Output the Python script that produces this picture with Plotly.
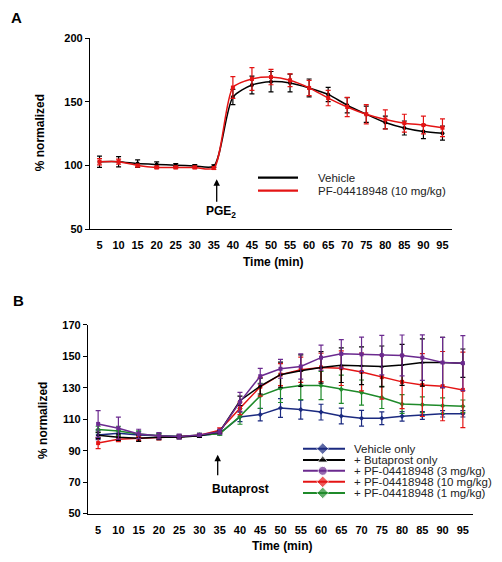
import plotly.graph_objects as go

W, H = 502, 562

# ---------------- data ----------------
times = [5, 10, 15, 20, 25, 30, 35, 40, 45, 50, 55, 60, 65, 70, 75, 80, 85, 90, 95]
tick_labels = [str(t) for t in times]

# Panel A
a_vehicle = [103, 103, 101.5, 100.8, 100.3, 99.7, 99.5, 153.8, 163.3, 165.9, 164.9, 161, 155.9, 147.4, 140.3, 133.8, 129.5, 126.7, 125.4]
a_vehicle_err = [4.4, 4, 3, 2, 1.2, 1, 1, 6, 7, 8, 7, 7, 5.6, 6, 6.4, 5, 5.5, 5.5, 5.5]
a_pf10 = [103, 103, 100, 98.5, 98.5, 98.5, 98, 161.3, 168, 169.5, 167, 161, 153, 146, 140.3, 136.2, 133.3, 131.8, 129.7]
a_pf10_err = [2.5, 2, 1, 1, 1, 1, 1, 8.5, 9, 6, 5, 6, 6, 7.5, 7.5, 7.5, 7, 7, 7]

# Panel B
b_vehicle = [100, 101, 100, 99.5, 99, 99.5, 101, 111.4, 112.9, 117.1, 116.1, 114.5, 112, 110.6, 110.6, 111.8, 112.4, 113.4, 113.4]
b_vehicle_err = [3, 2, 2, 1.5, 1, 1, 1, 3, 4, 6, 6, 5, 5, 5, 4, 3, 2.5, 2, 2]
b_buta = [99.8, 98.5, 97.9, 98.5, 98.5, 99.5, 102, 121.7, 131, 138.3, 140.8, 142.9, 144.3, 143.9, 143.5, 144.5, 146, 146, 145.6]
b_buta_err = [2, 2, 2, 1.5, 1, 1, 1, 3, 5, 8, 10, 10, 11, 12, 13, 13, 15, 16, 9]
b_pf3 = [107, 104.3, 100.6, 99.5, 99, 100, 102, 121, 137.3, 142, 143.5, 149.1, 151.5, 151.2, 150.7, 150.5, 149.1, 146, 145.6]
b_pf3_err = [8.5, 7, 3, 2, 1.5, 1, 1.5, 6, 5, 6, 8, 8, 9, 11, 12.5, 13, 14.5, 16, 17.5]
b_pf10 = [94.8, 97.2, 97.9, 98.3, 98.8, 99.8, 103, 116.9, 130.6, 138.3, 141.4, 142.9, 142.4, 140, 136.7, 133.7, 131.7, 131, 128.6]
b_pf10_err = [3.5, 1.5, 1.5, 1.5, 1, 1, 1.5, 4, 6, 7, 8, 9, 11, 12, 14, 17, 20, 22, 24]
b_pf1 = [103.5, 102.5, 100.6, 99.5, 99, 100, 100.8, 111.8, 124.8, 129.6, 131.4, 131.4, 129, 126.9, 123.8, 119.6, 119.2, 118.6, 118.2]
b_pf1_err = [2, 3, 2, 1.5, 1, 1, 1, 5, 8, 9, 9, 9, 9, 8, 7, 6, 5, 5, 4]

a_names = ["Vehicle", "PF-04418948 (10 mg/kg)"]
b_names = ["Vehicle only", "+ Butaprost only", "+ PF-04418948 (3 mg/kg)",
           "+ PF-04418948 (10 mg/kg)", "+ PF-04418948 (1 mg/kg)"]

NAVY, BLACK, PURPLE, RED, GREEN = "#1B2A80", "#000000", "#6B2A8F", "#E41414", "#1F8A2A"
FONT = "Arial, Liberation Sans, sans-serif"

fig = go.Figure()


def add_series(y, err, color, symbol, xa, ya, shape):
    fig.add_trace(go.Scatter(
        x=times, y=y, mode="lines+markers",
        line=dict(color=color, width=1.5, shape=shape, smoothing=0.7),
        marker=dict(color=color, size=4, symbol=symbol),
        error_y=dict(type="data", array=err, color=color, thickness=1.2, width=2.5),
        xaxis=xa, yaxis=ya, showlegend=False, cliponaxis=False))


# Panel A
add_series(a_vehicle, a_vehicle_err, BLACK, "circle", "x", "y", "spline")
add_series(a_pf10, a_pf10_err, RED, "square", "x", "y", "spline")

# Panel B
add_series(b_vehicle, b_vehicle_err, NAVY, "diamond", "x2", "y2", "linear")
add_series(b_pf1, b_pf1_err, GREEN, "diamond", "x2", "y2", "linear")
add_series(b_pf10, b_pf10_err, RED, "square", "x2", "y2", "linear")
add_series(b_buta, b_buta_err, BLACK, "triangle-up", "x2", "y2", "linear")
add_series(b_pf3, b_pf3_err, PURPLE, "square", "x2", "y2", "linear")

# ---------- custom legends on an invisible pixel-space overlay axis ----------
annotations = []
a_leg_rows = [175.3, 188.7]
for name, color, row in zip(a_names, [BLACK, RED], a_leg_rows):
    fig.add_trace(go.Scatter(x=[258, 298], y=[row, row], mode="lines",
                             line=dict(color=color, width=2.2),
                             xaxis="x3", yaxis="y3", showlegend=False, hoverinfo="skip"))
    annotations.append(dict(text=name, xref="paper", yref="paper", x=316 / W, y=1 - row / H,
                            xanchor="left", yanchor="middle", showarrow=False,
                            font=dict(family=FONT, size=11.5, color="#222")))

b_leg_rows = [452.3, 464.0, 475.0, 486.2, 497.5]
b_leg_style = [(NAVY, "diamond"), (BLACK, "triangle-up"), (PURPLE, "circle"), (RED, "diamond"), (GREEN, "diamond")]
for name, (color, sym), row in zip(b_names, b_leg_style, b_leg_rows):
    fig.add_trace(go.Scatter(x=[303, 322.7, 345], y=[row, row, row], mode="lines+markers",
                             line=dict(color=color, width=2),
                             marker=dict(color=color, size=[0, 9, 0], symbol=sym),
                             xaxis="x3", yaxis="y3", showlegend=False, hoverinfo="skip"))
    annotations.append(dict(text=name, xref="paper", yref="paper", x=352 / W, y=1 - row / H,
                            xanchor="left", yanchor="middle", showarrow=False,
                            font=dict(family=FONT, size=11.5, color="#222")))

# ---------- text annotations ----------
bold = dict(family=FONT, size=12, color="black")
annotations += [
    dict(text="<b>A</b>", xref="paper", yref="paper", x=9 / W, y=1 - 12 / H, xanchor="left",
         yanchor="middle", showarrow=False, font=dict(family=FONT, size=15, color="black")),
    dict(text="<b>B</b>", xref="paper", yref="paper", x=11 / W, y=1 - 300.5 / H, xanchor="left",
         yanchor="middle", showarrow=False, font=dict(family=FONT, size=15, color="black")),
    dict(text="<b>% normalized</b>", xref="paper", yref="paper", x=40 / W, y=1 - 130 / H, textangle=-90,
         xanchor="center", yanchor="middle", showarrow=False, font=bold),
    dict(text="<b>% normalized</b>", xref="paper", yref="paper", x=43 / W, y=1 - 424 / H, textangle=-90,
         xanchor="center", yanchor="middle", showarrow=False, font=bold),
    dict(text="<b>Time (min)</b>", xref="paper", yref="paper", x=273 / W, y=1 - 262 / H,
         xanchor="center", yanchor="middle", showarrow=False, font=bold),
    dict(text="<b>Time (min)</b>", xref="paper", yref="paper", x=281.7 / W, y=1 - 552 / H,
         xanchor="center", yanchor="middle", showarrow=False, font=bold),
    dict(text="<b>PGE<sub>2</sub></b>", xref="paper", yref="paper", x=221 / W, y=1 - 210 / H,
         xanchor="center", yanchor="middle", showarrow=False, font=bold),
    dict(text="<b>Butaprost</b>", xref="paper", yref="paper", x=240.7 / W, y=1 - 493.5 / H,
         xanchor="center", yanchor="middle", showarrow=False, font=bold),
    dict(text="", xref="paper", yref="paper", x=216.7 / W, y=1 - 177 / H, ax=0, ay=24,
         showarrow=True, arrowhead=2, arrowsize=1, arrowwidth=1.3, arrowcolor="black", standoff=0),
    dict(text="", xref="paper", yref="paper", x=217.7 / W, y=1 - 458.5 / H, ax=0, ay=22,
         showarrow=True, arrowhead=2, arrowsize=1, arrowwidth=1.3, arrowcolor="black", standoff=0),
]

boundary_ticks = [t - 2.5 for t in times] + [times[-1] + 2.5]
tickfont = dict(family=FONT, size=11, color="black")
bold_ticks = ["<b>%s</b>" % s for s in tick_labels]


def xaxis_cfg(domain, anchor):
    return dict(domain=domain, anchor=anchor, range=[2.5, 97.5], tickmode="array", tickvals=times,
                ticktext=bold_ticks, showline=True, linecolor="black", linewidth=1.3,
                ticks="outside", ticklen=6, tickcolor="rgba(0,0,0,0)",
                showgrid=False, zeroline=False, tickfont=tickfont)


def xaxis_boundary(domain, anchor, over):
    return dict(domain=domain, anchor=anchor, overlaying=over, range=[2.5, 97.5], tickmode="array",
                tickvals=boundary_ticks, showticklabels=False, showline=False,
                ticks="outside", ticklen=4, tickcolor="black", tickwidth=1,
                showgrid=False, zeroline=False)


def yaxis_cfg(domain, anchor, rng, vals):
    return dict(domain=domain, anchor=anchor, range=rng, tickmode="array", tickvals=vals,
                ticktext=["<b>%d</b>" % v for v in vals], showline=True, linecolor="black",
                linewidth=1.3, ticks="outside", ticklen=4, tickcolor="black", showgrid=False, zeroline=False,
                tickfont=tickfont)


fig.update_layout(
    width=W, height=H, margin=dict(l=0, r=0, t=0, b=0),
    paper_bgcolor="white", plot_bgcolor="rgba(0,0,0,0)", showlegend=False,
    font=dict(family=FONT, color="black"),
    xaxis=xaxis_cfg([90 / W, 452 / W], "y"),
    yaxis=yaxis_cfg([(H - 228) / H, (H - 33) / H], "x", [50, 200], [50, 100, 150, 200]),
    xaxis2=xaxis_cfg([88 / W, 473 / W], "y2"),
    yaxis2=yaxis_cfg([(H - 518.7) / H, (H - 325.7) / H], "x2", [50, 170], [50, 70, 90, 110, 130, 150, 170]),
    xaxis3=dict(domain=[0, 1], anchor="y3", range=[0, W], visible=False, fixedrange=True),
    yaxis3=dict(domain=[0, 1], anchor="x3", range=[H, 0], visible=False, fixedrange=True),
    xaxis4=xaxis_boundary([90 / W, 452 / W], "y", "x"),
    xaxis5=xaxis_boundary([88 / W, 473 / W], "y2", "x2"),
    annotations=annotations,
)

fig.write_html("out.html", config={"displayModeBar": False},
               post_script="document.body.style.margin='0';document.body.style.overflow='hidden';")
